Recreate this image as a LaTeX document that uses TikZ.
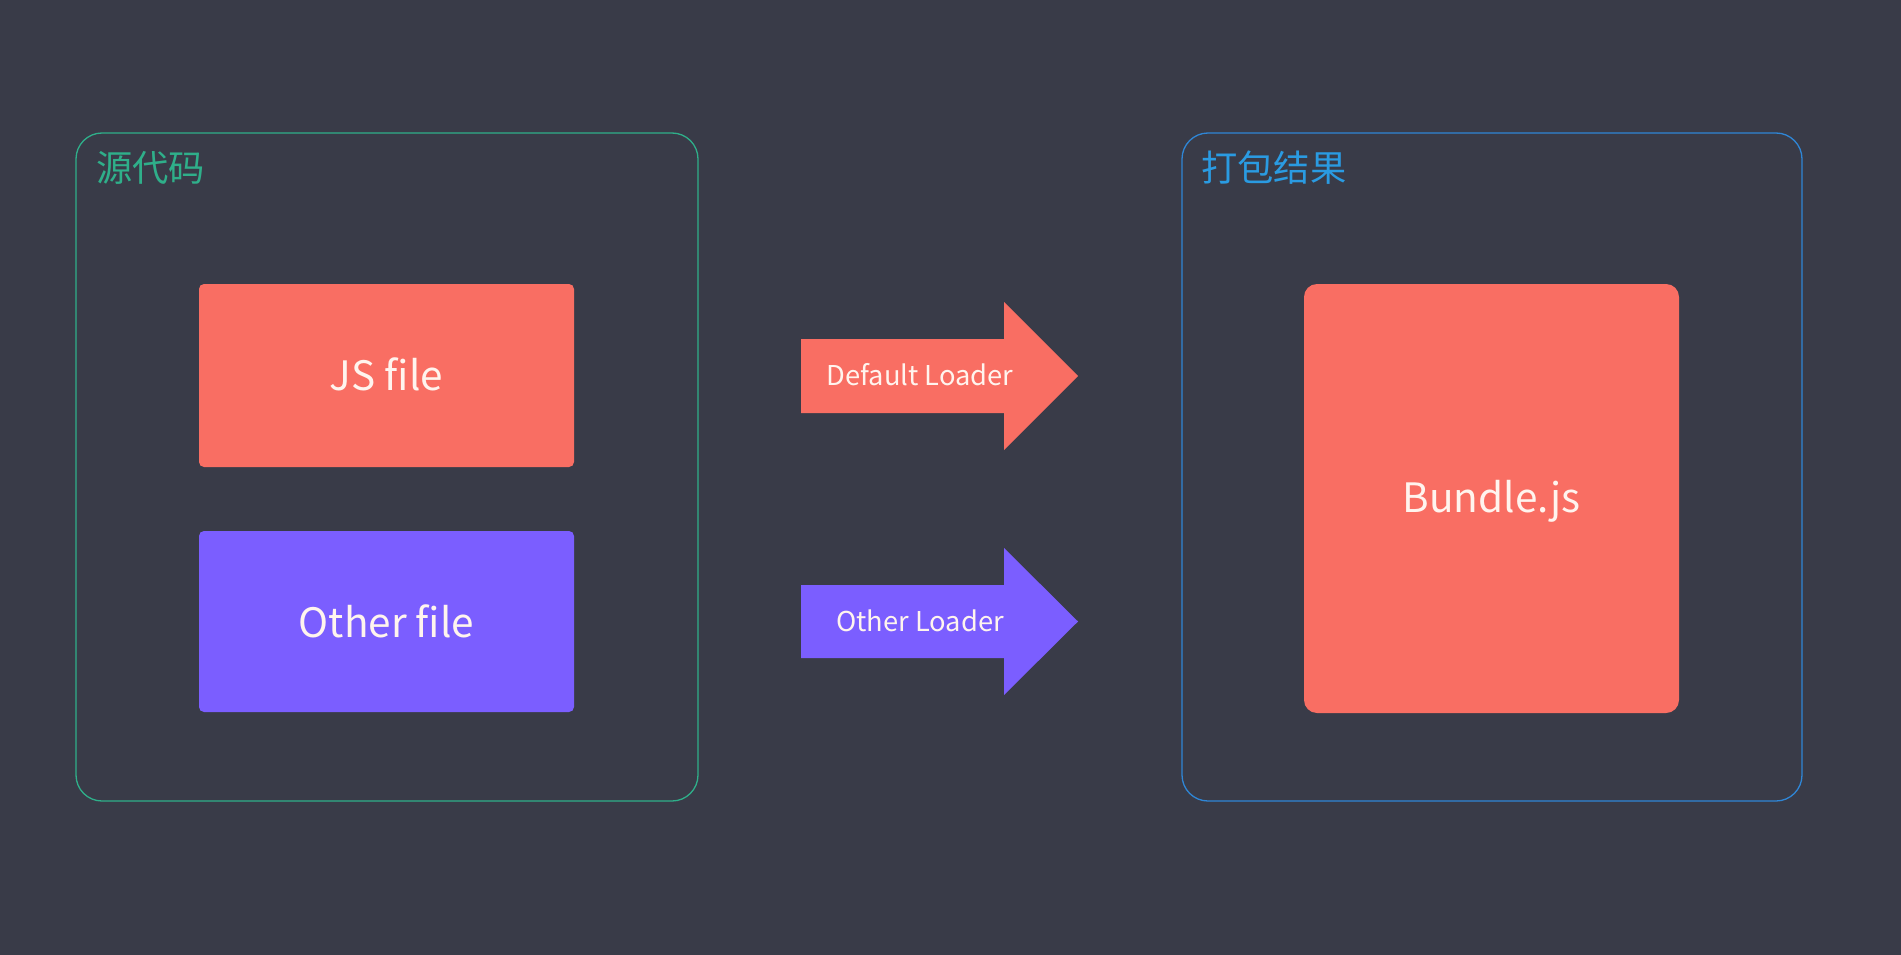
\documentclass[tikz,border=0pt]{standalone}
\usepackage{fontspec}
\setmainfont{Noto Sans CJK SC}
\definecolor{bg}{HTML}{393B48}
\definecolor{redbox}{HTML}{F96E63}
\definecolor{purplebox}{HTML}{7B5EFF}
\definecolor{greenline}{HTML}{2FAF8A}
\definecolor{blueline}{HTML}{2F86D6}
\definecolor{bluetext}{HTML}{2A9BE2}
\definecolor{boxtext}{HTML}{FFF4EE}
\begin{document}
\begin{tikzpicture}[x=1pt,y=-1pt,
  frame/.style={draw, line width=1.3pt, rounded corners=26pt},
  filebox/.style={rounded corners=5pt},
  boxlabel/.style={text=boxtext, font=\fontsize{40.5}{48}\selectfont, inner sep=0pt},
  arrowlabel/.style={text=boxtext, font=\fontsize{27.3}{33}\selectfont, inner sep=0pt},
  framelabel/.style={font=\fontsize{36.3}{42}\selectfont, inner sep=0pt, anchor=west}]
\useasboundingbox (0,0) rectangle (1901,955);
\fill[bg] (0,0) rectangle (1901,955);
% frames
\draw[frame, greenline] (76,133) rectangle (698,801);
\draw[frame, blueline] (1182,133) rectangle (1802,801);
\node[framelabel, text=greenline] (src) at (96,168) {源代码};
\node[framelabel, text=bluetext] (out) at (1201,168) {打包结果};
% file boxes
\fill[redbox, filebox] (199,284) rectangle (574,467);
\node[boxlabel] (js) at (386.5,374.5) {JS file};
\fill[purplebox, filebox] (199,531) rectangle (574,712);
\node[boxlabel] (other) at (386.5,621) {Other file};
\fill[redbox, rounded corners=13pt] (1304,284) rectangle (1679,713);
\node[boxlabel] (bundle) at (1491.5,501.5) {Bundle.js};
% arrows
\fill[redbox] (801,339) -- (1004,339) -- (1004,302) -- (1078,376) -- (1004,450) -- (1004,413) -- (801,413) -- cycle;
\node[arrowlabel] (dl) at (920,375) {Default Loader};
\fill[purplebox] (801,585) -- (1004,585) -- (1004,548) -- (1078,621.5) -- (1004,695) -- (1004,658) -- (801,658) -- cycle;
\node[arrowlabel] (ol) at (920,621) {Other Loader};
\end{tikzpicture}
\end{document}
